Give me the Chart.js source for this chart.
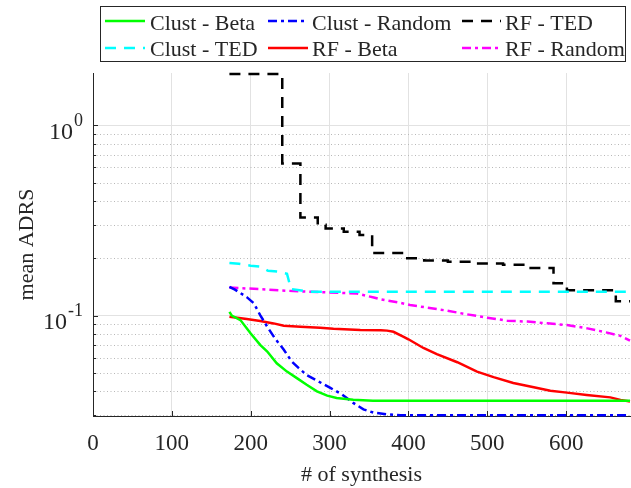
<!DOCTYPE html>
<html>
<head>
<meta charset="utf-8">
<title>mean ADRS</title>
<script src="https://cdn.jsdelivr.net/npm/chart.js@4.4.1/dist/chart.umd.min.js"></script>
<style>
  html, body { margin: 0; padding: 0; background: #fff; }
  canvas { display: block; }
</style>
</head>
<body>
<canvas id="chart" width="631" height="488"></canvas>
<script>
// data (x = # of synthesis, y = mean ADRS)
const clustBetaX = [173, 176, 187, 200, 212, 221, 233, 246, 259, 271, 284, 297, 309, 330, 355, 681];
const clustBetaY = [0.1046, 0.100, 0.0947, 0.0806, 0.0702, 0.0648, 0.0562, 0.0508, 0.0468, 0.0433, 0.0400, 0.0380, 0.0369, 0.0361, 0.0357, 0.0357];

const clustTedX = [173, 185, 200, 212, 222, 236, 246, 251, 262, 275, 681];
const clustTedY = [0.189, 0.187, 0.183, 0.181, 0.172, 0.170, 0.166, 0.138, 0.136, 0.1335, 0.1335];

const clustRandX = [173, 180, 195, 204, 212, 221, 231, 242, 252, 261, 271, 286, 301, 316, 330, 343, 356, 377, 390, 681];
const clustRandY = [0.1416, 0.137, 0.125, 0.116, 0.1006, 0.0874, 0.0757, 0.0662, 0.0574, 0.053, 0.0487, 0.0451, 0.0417, 0.0385, 0.0348, 0.0322, 0.0309, 0.0302, 0.0300, 0.0300];

const rfBetaX = [173, 195, 212, 229, 242, 263, 288, 305, 339, 365, 373, 381, 394, 400, 419, 436, 462, 487, 508, 533, 559, 580, 601, 626, 656, 669, 681];
const rfBetaY = [0.0986, 0.0960, 0.0937, 0.0910, 0.0884, 0.0874, 0.0864, 0.0854, 0.0841, 0.0838, 0.0834, 0.0822, 0.0774, 0.0751, 0.0676, 0.0627, 0.0569, 0.0508, 0.0475, 0.0443, 0.0420, 0.0403, 0.0394, 0.0383, 0.0372, 0.0361, 0.0354];

// stair steps: value holds until the next x
const rfTedX = [173, 240, 263, 285, 295, 318, 338, 354, 396, 420, 450, 480, 520, 550, 584, 601, 663, 681];
const rfTedY = [1.86, 0.63, 0.328, 0.300, 0.287, 0.276, 0.265, 0.213, 0.200, 0.195, 0.192, 0.188, 0.185, 0.178, 0.148, 0.136, 0.119, 0.119];

const rfRandX = [173, 212, 254, 297, 335, 356, 365, 390, 402, 449, 474, 500, 525, 551, 576, 601, 627, 652, 669, 681];
const rfRandY = [0.1405, 0.1376, 0.1345, 0.1325, 0.1305, 0.1245, 0.1217, 0.1166, 0.1137, 0.1062, 0.1016, 0.0975, 0.0941, 0.093, 0.0911, 0.0892, 0.0857, 0.0814, 0.0783, 0.0739];

const xTicks = [0, 100, 200, 300, 400, 500, 600];
const yTicks = [0.03, 0.04, 0.05, 0.06, 0.07, 0.08, 0.09, 0.1, 0.2, 0.3, 0.4, 0.5, 0.6, 0.7, 0.8, 0.9, 1];

const FONT = '"Liberation Serif", "Times New Roman", serif';
const INK = '#262626';

function pts(xs, ys) {
  return xs.map((x, i) => ({ x: x, y: ys[i] }));
}
function isDecade(v) {
  const l = Math.log10(v);
  return Math.abs(l - Math.round(l)) < 1e-9;
}

// dotted minor grid, inward tick marks and 10^n labels, like the matlab axes
const axesExtras = {
  id: 'axesExtras',
  beforeDatasetsDraw(chart) {
    const { ctx, chartArea: a, scales: { x, y } } = chart;
    ctx.save();
    ctx.lineWidth = 1;
    ctx.strokeStyle = '#b8b8b8';
    ctx.setLineDash([1, 2.5]);
    yTicks.filter(v => !isDecade(v)).forEach(v => {
      const py = Math.round(y.getPixelForValue(v)) + 0.5;
      ctx.beginPath(); ctx.moveTo(a.left, py); ctx.lineTo(a.right, py); ctx.stroke();
    });
    ctx.setLineDash([]);
    ctx.strokeStyle = INK;
    xTicks.forEach(v => {
      const px = Math.round(x.getPixelForValue(v)) + 0.5;
      ctx.beginPath(); ctx.moveTo(px, a.bottom); ctx.lineTo(px, a.bottom - 5); ctx.stroke();
    });
    yTicks.forEach(v => {
      const py = Math.round(y.getPixelForValue(v)) + 0.5;
      const len = isDecade(v) ? 5 : 3;
      ctx.beginPath(); ctx.moveTo(a.left, py); ctx.lineTo(a.left + len, py); ctx.stroke();
    });

    // decade labels with a real raised exponent
    ctx.fillStyle = INK;
    ctx.textAlign = 'right';
    ctx.textBaseline = 'alphabetic';
    yTicks.filter(isDecade).forEach(v => {
      const py = y.getPixelForValue(v);
      const p = Math.round(Math.log10(v));
      const exp = p === 0 ? '0' : '-1';
      const right = a.left - 10;
      ctx.font = '18px ' + FONT;
      const w = ctx.measureText(exp).width;
      ctx.fillText(exp, right, py + 0.5);
      ctx.font = '24px ' + FONT;
      ctx.fillText('10', right - w - 1, py + 13.5);
    });
    ctx.restore();
  }
};

// boxed legend, 3 columns x 2 rows
const boxLegend = {
  id: 'boxLegend',
  afterDraw(chart) {
    const ctx = chart.ctx;
    const lineX = [[105, 145], [268, 308], [462, 501]];
    const textX = [150, 312, 505];
    const lineY = [21, 48];
    const baseY = [29.5, 56];
    ctx.save();
    ctx.fillStyle = '#fff';
    ctx.fillRect(100.5, 6.5, 525, 55);
    ctx.strokeStyle = INK;
    ctx.lineWidth = 1;
    ctx.strokeRect(100.5, 6.5, 525, 55);
    ctx.font = '22px ' + FONT;
    ctx.textBaseline = 'alphabetic';
    chart.data.datasets.forEach((ds, i) => {
      const col = Math.floor(i / 2), row = i % 2;
      ctx.strokeStyle = ds.borderColor;
      ctx.lineWidth = ds.borderWidth;
      ctx.setLineDash(ds.borderDash || []);
      ctx.beginPath();
      ctx.moveTo(lineX[col][0], lineY[row]);
      ctx.lineTo(lineX[col][1], lineY[row]);
      ctx.stroke();
      ctx.setLineDash([]);
      ctx.fillStyle = INK;
      ctx.fillText(ds.label, textX[col], baseY[row]);
    });
    ctx.restore();
  }
};

function series(label, xs, ys, color, dash, stepped) {
  return {
    label: label,
    data: pts(xs, ys),
    borderColor: color,
    backgroundColor: color,
    borderWidth: 2.5,
    borderDash: dash,
    pointRadius: 0,
    fill: false,
    tension: 0,
    clip: 3,
    stepped: stepped || false
  };
}

const DASH = [11, 8];
const DASHDOT = [9, 4, 3, 4];

new Chart(document.getElementById('chart'), {
  type: 'line',
  data: {
    datasets: [
      series('Clust - Beta', clustBetaX, clustBetaY, '#00ff00', []),
      series('Clust - TED', clustTedX, clustTedY, '#00ffff', DASH),
      series('Clust - Random', clustRandX, clustRandY, '#0000ff', DASHDOT),
      series('RF - Beta', rfBetaX, rfBetaY, '#ff0000', []),
      series('RF - TED', rfTedX, rfTedY, '#000000', DASH, 'before'),
      series('RF - Random', rfRandX, rfRandY, '#ff00ff', DASHDOT)
    ]
  },
  options: {
    responsive: false,
    animation: false,
    devicePixelRatio: 1,
    layout: { padding: { top: 73, right: 1, left: 0, bottom: 0 } },
    plugins: {
      legend: { display: false },
      tooltip: { enabled: false }
    },
    scales: {
      x: {
        type: 'linear',
        min: 0,
        max: 681,
        afterBuildTicks: axis => { axis.ticks = xTicks.map(v => ({ value: v })); },
        afterFit: scale => { scale.height = 72; },
        ticks: {
          autoSkip: false,
          maxRotation: 0,
          padding: 14,
          color: INK,
          font: { family: FONT, size: 23 },
          callback: v => String(v)
        },
        grid: {
          drawTicks: false,
          color: ctx => (ctx.tick && ctx.tick.value === 0) ? 'rgba(0,0,0,0)' : '#e2e2e2'
        },
        border: { color: INK, width: 1 },
        title: {
          display: true,
          text: '# of synthesis',
          color: INK,
          font: { family: FONT, size: 22 },
          padding: { top: 0, bottom: 0 }
        }
      },
      y: {
        type: 'logarithmic',
        min: 0.0297,
        max: 1.88,
        afterBuildTicks: axis => { axis.ticks = yTicks.map(v => ({ value: v, major: isDecade(v) })); },
        afterFit: scale => { scale.width = 93; },
        ticks: {
          autoSkip: false,
          padding: 11,
          font: { family: FONT, size: 22 },
          callback: () => ''
        },
        grid: {
          drawTicks: false,
          color: ctx => (ctx.tick && isDecade(ctx.tick.value)) ? '#e2e2e2' : 'rgba(0,0,0,0)'
        },
        border: { color: INK, width: 1 },
        title: {
          display: true,
          text: 'mean ADRS',
          color: INK,
          font: { family: FONT, size: 22 },
          padding: { top: 14, bottom: 0 }
        }
      }
    }
  },
  plugins: [axesExtras, boxLegend]
});
</script>
</body>
</html>
